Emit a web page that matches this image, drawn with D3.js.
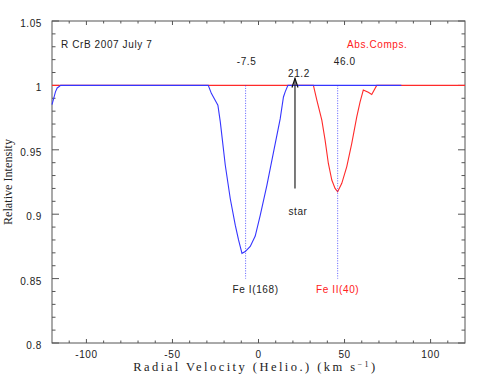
<!DOCTYPE html>
<html>
<head>
<meta charset="utf-8">
<script src="https://cdn.jsdelivr.net/npm/d3@7"></script>
<style>
  body { margin: 0; background: #fff; }
  text { font-family: "Liberation Sans", Arial, sans-serif; letter-spacing: 0.6px; }
</style>
</head>
<body>
<div id="chart"></div>
<script>
"use strict";

// data
var blueVel = [-120, -119, -118, -117, -116, -115, -29.2, -27.4, -24.7, -23.6, -22.2, -19.3, -16.4, -13.5, -11.6, -9.6, -7.7, -4.8, -1.9, 1.0, 4.9, 8.7, 12.6, 14.5, 15.5, 17.1, 83];
var blueInt = [0.985, 0.990, 0.995, 0.998, 0.999, 1.0, 1.0, 0.9938, 0.9873, 0.9847, 0.9717, 0.938, 0.912, 0.8915, 0.880, 0.8696, 0.871, 0.875, 0.883, 0.899, 0.9226, 0.948, 0.974, 0.991, 0.995, 1.0, 1.0];

var redVel = [-120, 31.9, 33.9, 36.8, 38.7, 40.6, 42.6, 44.5, 46.0, 48.4, 51.3, 54.2, 57.1, 59.0, 60.9, 63.8, 65.8, 68.7, 120];
var redInt = [1, 1, 0.9886, 0.973, 0.9575, 0.9394, 0.9265, 0.920, 0.9174, 0.924, 0.937, 0.955, 0.9756, 0.987, 0.9964, 0.9946, 0.993, 1, 1];

var xTicks = [-100, -50, 0, 50, 100];
var yTicks = [0.8, 0.85, 0.9, 0.95, 1, 1.05];
var yTickLabels = ["0.8", "0.85", "0.9", "0.95", "1", "1.05"];

var compVel = [-7.5, 46.0];
var starVel = 21.2;

// dimensions
var margin = {top: 21, right: 26, bottom: 39, left: 52},
  width = 491 - margin.left - margin.right,
  height = 382 - margin.top - margin.bottom;

var svg = d3.select("#chart")
.append("svg")
  .attr("width", 491)
  .attr("height", 382)
.append("g")
  .attr("transform", "translate(" + margin.left + "," + margin.top + ")");

var x = d3.scaleLinear().domain([-120, 120]).range([0, width]);
var y = d3.scaleLinear().domain([0.8, 1.05]).range([height, 0]);

var axisColor = "#555";

// frame
svg.append("rect")
  .attr("width", width).attr("height", height)
  .attr("fill", "none").attr("stroke", axisColor).attr("stroke-width", 1);

// ticks (inside, on all four sides)
var xMinor = d3.range(-110, 120, 10);
var yMinor = d3.range(0.8, 1.0501, 0.01);
var tg = svg.append("g").attr("stroke", axisColor).attr("stroke-width", 1);
xMinor.forEach(function(v) {
  var major = v % 50 === 0;
  var len = major ? 4 : 2.5;
  tg.append("line").attr("x1", x(v)).attr("x2", x(v)).attr("y1", height).attr("y2", height - len);
  tg.append("line").attr("x1", x(v)).attr("x2", x(v)).attr("y1", 0).attr("y2", len);
});
yMinor.forEach(function(v) {
  var major = Math.abs(Math.round(v * 100) % 5) === 0;
  var len = major ? 7 : 3.5;
  tg.append("line").attr("x1", 0).attr("x2", len).attr("y1", y(v)).attr("y2", y(v));
  tg.append("line").attr("x1", width).attr("x2", width - len).attr("y1", y(v)).attr("y2", y(v));
});

// tick labels
svg.selectAll(".xlab").data(xTicks).enter().append("text")
  .attr("x", function(d) { return x(d); })
  .attr("y", height + 15)
  .attr("text-anchor", "middle")
  .style("font-size", "10px")
  .attr("fill", "#222")
  .text(function(d) { return d; });

svg.selectAll(".ylab").data(yTicks).enter().append("text")
  .attr("x", -10)
  .attr("y", function(d) { return y(d) + 6; })
  .attr("text-anchor", "end")
  .style("font-size", "10px")
  .attr("fill", "#222")
  .text(function(d, i) { return yTickLabels[i]; });

// axis titles
var xt = svg.append("text")
  .attr("x", x(-2.5))
  .attr("y", height + 28)
  .attr("text-anchor", "middle")
  .attr("textLength", 242)
  .attr("lengthAdjust", "spacing")
  .style("font-family", "'Liberation Serif', serif")
  .style("font-size", "12.5px")
  .style("letter-spacing", "0px")
  .attr("fill", "#222");
xt.append("tspan").text("Radial Velocity (Helio.) (km s");
xt.append("tspan").attr("dy", -4).style("font-size", "8px").text("−1");
xt.append("tspan").attr("dy", 4).text(")");

svg.append("text")
  .attr("transform", "translate(" + (-40.5) + "," + y(0.925) + ") rotate(-90)")
  .attr("text-anchor", "middle")
  .attr("textLength", 86)
  .attr("lengthAdjust", "spacingAndGlyphs")
  .style("font-family", "'Liberation Serif', serif")
  .style("font-size", "12px")
  .style("letter-spacing", "0px")
  .attr("fill", "#222")
  .text("Relative Intensity");

// curves
var line = d3.line()
  .x(function(d) { return x(d[0]); })
  .y(function(d) { return y(d[1]); });

svg.append("path")
  .datum(redVel.map(function(v, i) { return [v, redInt[i]]; }))
  .attr("d", line)
  .attr("fill", "none")
  .attr("stroke", "#ff2a2a")
  .attr("stroke-width", 1.1);

svg.append("path")
  .datum(blueVel.map(function(v, i) { return [v, blueInt[i]]; }))
  .attr("d", line)
  .attr("fill", "none")
  .attr("stroke", "#3535ff")
  .attr("stroke-width", 1.1);

// absorption component markers
svg.selectAll(".comp").data(compVel).enter().append("line")
  .attr("x1", function(d) { return x(d); })
  .attr("x2", function(d) { return x(d); })
  .attr("y1", y(1))
  .attr("y2", y(0.85))
  .attr("stroke", "#3030ff")
  .attr("stroke-width", 0.8)
  .attr("stroke-dasharray", "1,1.5");

svg.append("text").attr("x", x(-7.5) + 1).attr("y", y(1.0) - 20)
  .attr("text-anchor", "middle").style("font-size", "10px").attr("fill", "#222")
  .text("-7.5");
svg.append("text").attr("x", x(46.0) + 7).attr("y", y(1.0) - 20)
  .attr("text-anchor", "middle").style("font-size", "10px").attr("fill", "#222")
  .text("46.0");

svg.append("text").attr("x", x(-7.5) + 10).attr("y", y(0.85) + 14)
  .attr("text-anchor", "middle").style("font-size", "10px").attr("fill", "#222")
  .text("Fe I(168)");
svg.append("text").attr("x", x(46.0)).attr("y", y(0.85) + 14)
  .attr("text-anchor", "middle").style("font-size", "10px").attr("fill", "#ff2020")
  .text("Fe II(40)");

// star arrow
var sx = x(starVel);
svg.append("line")
  .attr("x1", sx).attr("x2", sx)
  .attr("y1", y(0.92)).attr("y2", y(1.0054))
  .attr("stroke", "#222").attr("stroke-width", 1.2);
svg.append("path")
  .attr("d", "M" + (sx - 3) + "," + (y(1.0054) + 9) + "L" + sx + "," + y(1.0054) + "L" + (sx + 3) + "," + (y(1.0054) + 9))
  .attr("fill", "none").attr("stroke", "#111").attr("stroke-width", 1.2);
svg.append("text").attr("x", sx + 4).attr("y", y(1.0054) - 1)
  .attr("text-anchor", "middle").style("font-size", "10px").attr("fill", "#222")
  .text("21.2");
svg.append("text").attr("x", sx + 3).attr("y", y(0.92) + 27)
  .attr("text-anchor", "middle").style("font-size", "10px").attr("fill", "#222")
  .text("star");

// title and legend
svg.append("text").attr("x", 9).attr("y", 27)
  .style("font-size", "10px").attr("fill", "#222")
  .text("R CrB 2007 July 7");
svg.append("text").attr("x", 295).attr("y", 27)
  .style("font-size", "10px").attr("fill", "#ff2020")
  .text("Abs.Comps.");
</script>
</body>
</html>
